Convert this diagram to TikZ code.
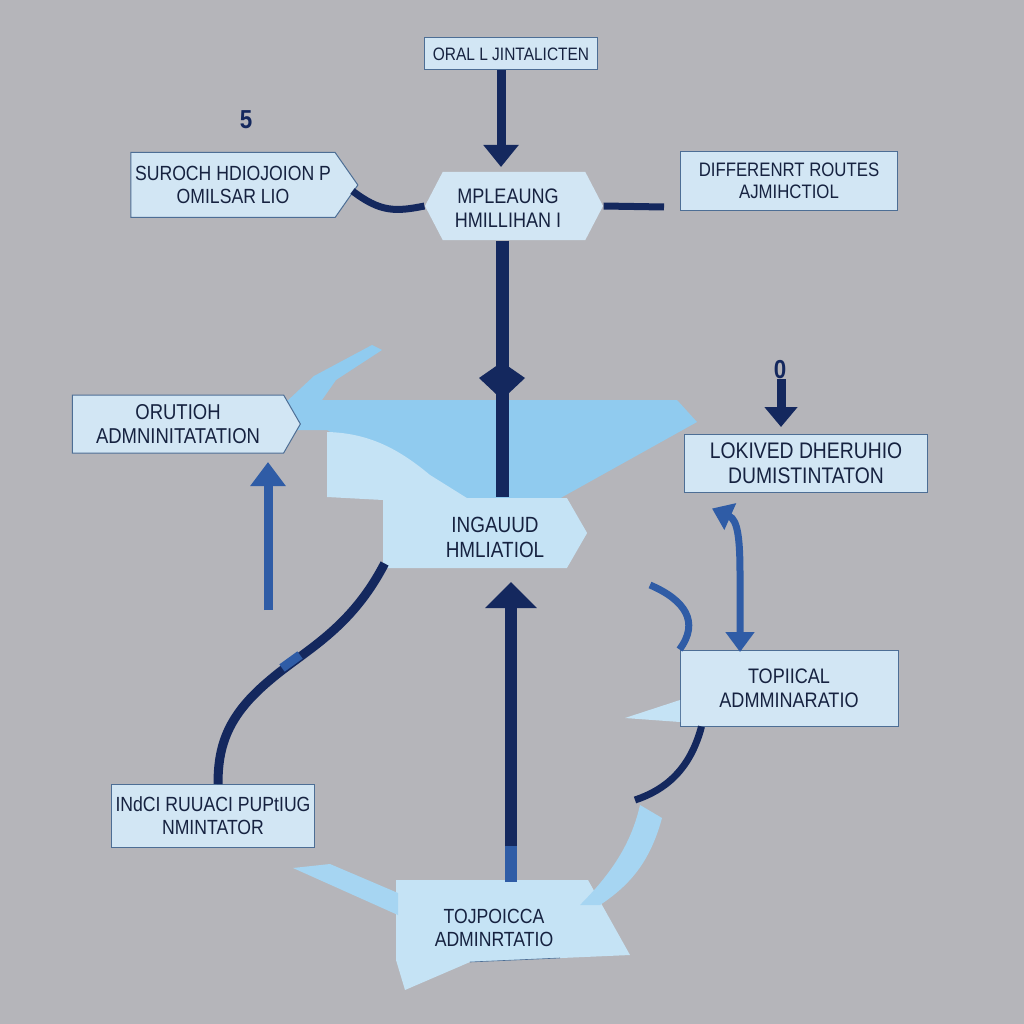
\documentclass[tikz,border=0pt]{standalone}
\usepackage{fontspec}
\setmainfont[FakeStretch=0.86]{Liberation Sans}
\usetikzlibrary{shapes.arrows,shapes.geometric,shapes.symbols,arrows.meta}
\definecolor{bg}{RGB}{181,181,186}
\definecolor{boxfill}{RGB}{210,230,244}
\definecolor{border}{RGB}{77,110,149}
\definecolor{navy}{RGB}{20,40,94}
\definecolor{midblue}{RGB}{47,92,166}
\definecolor{funnel}{RGB}{144,203,239}
\definecolor{pale}{RGB}{197,227,245}
\definecolor{txt}{RGB}{22,34,64}
\newcommand{\fsz}[1]{\fontsize{#1}{1.15*#1}\selectfont}
\tikzset{
  box/.style={draw=border, line width=1pt, fill=boxfill, text=txt, align=center,
    inner sep=0pt, font=\fontsize{19.5}{22}\selectfont},
  sig/.style={box, shape=signal},
  plain/.style={text=txt, align=center, inner sep=0pt},
  nav/.style={draw=navy, line width=7pt},
  mid/.style={draw=midblue, line width=8pt},
  lbl/.style={text=navy, font=\fontsize{26}{28}\selectfont\bfseries, inner sep=0pt},
}
\begin{document}
\begin{tikzpicture}[x=1pt,y=-1pt]
\fill[bg] (0,0) rectangle (1024,1024);
\useasboundingbox (0,0) rectangle (1024,1024);

% ---- funnel and swoosh ----
\fill[funnel] (284,404) -- (314,376) -- (372,345) -- (382,350) -- (336,380) -- (322,400) -- cycle;
\fill[funnel] (280,400) -- (677,400) -- (697,422) -- (557,500) -- (460,505) -- (327,430) -- (280,430) -- cycle;
\fill[pale] (327,432) .. controls (370,433) and (400,450) .. (430,475) -- (470,500) -- (460,512) -- (383,500) -- (327,497) -- cycle;

% ---- boxes ----
\node[box, minimum width=173pt, minimum height=32pt, font=\fontsize{18}{20}\selectfont] (oral) at (511,54) {ORAL L JINTALICTEN};
\node[sig, signal to=east, signal pointer angle=110, minimum width=227pt, minimum height=65pt, font=\fontsize{20.5}{23}\selectfont] (sur) at (233,185) {SUROCH HDIOJOION P\\OMILSAR LIO};
\node[sig, signal to=west and east, signal pointer angle=125, minimum width=178pt, minimum height=68pt, draw=none, font=\fontsize{21}{24}\selectfont] (mpl) at (514,206) {};
\node[plain, font=\fontsize{21}{24}\selectfont] (mplt) at (508,208) {MPLEAUNG\\HMILLIHAN I};
\node[box, minimum width=217pt, minimum height=59pt] (diff) at (789,181) {DIFFERENRT ROUTES\\AJMIHCTIOL};
\node[sig, signal to=east, signal pointer angle=120, minimum width=228pt, minimum height=58pt, font=\fontsize{21.5}{24}\selectfont] (orut) at (178,424) {ORUTIOH\\ADMNINITATATION};
\node[box, minimum width=243pt, minimum height=58pt, font=\fontsize{22.5}{25}\selectfont] (lok) at (806,463) {LOKIVED DHERUHIO\\DUMISTINTATON};
\node[sig, signal to=east, signal pointer angle=120, minimum width=204pt, minimum height=70pt, draw=none, fill=pale] (inga) at (475,533) {};
\node[plain, font=\fontsize{22}{25}\selectfont] (ingat) at (495,537) {INGAUUD\\HMLIATIOL};
\node[box, minimum width=218pt, minimum height=76pt, font=\fontsize{21}{24}\selectfont] (top) at (789,688) {TOPIICAL\\ADMMINARATIO};
\node[box, minimum width=203pt, minimum height=63pt, font=\fontsize{20.5}{23}\selectfont] (indc) at (213,816) {INdCI RUUACI PUPtIUG\\NMINTATOR};

% bottom box (irregular)
\fill[pale] (396,880) -- (588,880) -- (630,955) -- (470,962) -- (405,990) -- (396,960) -- cycle;
\node[plain, font=\fontsize{20.5}{23}\selectfont] (toj) at (494,928) {TOJPOICCA\\ADMINRTATIO};
\draw[border, line width=0.6pt] (470,962) -- (560,958);

% labels
\node[lbl] (five) at (246,120) {5};
\node[lbl] (zero) at (780,370) {0};

% ---- connectors ----
\coordinate (oralend) at (501,167);
\draw[nav, line width=9pt, -{Triangle[width=34pt,length=22pt]}] (oral.south -| oralend) -- (oralend);
\draw[nav] (sur.east) ++(-6,6) .. controls (380,212) and (395,212) .. (mpl.west);
\coordinate (diffend) at (664,207);
\draw[nav] (mpl.east) -- (diffend);
\coordinate (vend) at (502,497);
\draw[navy, line width=13pt] (mpl.south -| vend) -- (vend);
\fill[navy] (502,362) -- (525,378) -- (508,394) -- (496,394) -- (479,378) -- cycle;

\coordinate (zarrow) at (781,427);
\draw[navy, line width=9pt, -{Triangle[width=32pt,length=20pt]}] (zero.south -| zarrow) -- (zarrow);

\coordinate (lupS) at (268,610);
\coordinate (lupE) at (268,462);
\draw[midblue, line width=9pt, -{Triangle[width=34pt,length=24pt]}] (lupS) -- (lupE);

\draw[midblue, line width=7pt, {Triangle[width=28pt,length=20pt]}-{Triangle[width=28pt,length=20pt]}]
  (lok.south west) ++(28,16) .. controls (738,520) and (740,540) .. (740,575) -- (740,652);

\coordinate (arcS) at (650,585);
\draw[mid, line width=7pt] (arcS) .. controls (685,600) and (700,622) .. (top.north west);
\fill[pale] (625,718) -- (680,700) -- (680,722) -- cycle;

\coordinate (tcurve) at (635,800);
\draw[nav] (top.south west) ++(22,0) .. controls (690,770) and (665,790) .. (tcurve);

\fill[funnel!80!white] (640,805) -- (662,818) .. controls (650,862) and (630,885) .. (600,905) -- (580,905) .. controls (615,870) and (632,840) .. cycle;
\fill[funnel!80!white] (293,868) -- (330,864) -- (398,893) -- (398,915) -- cycle;

\draw[nav, line width=9pt] (inga.south west) ++(2,-5) .. controls (350,630) and (305,650) .. (270,680) .. controls (228,715) and (218,745) .. (indc.north -| 218,0);
\draw[midblue, line width=9pt] (282,668) -- (300,655);

\coordinate (bstart) at (511,882);
\draw[midblue, line width=12pt] (bstart) -- (511,845);
\draw[navy, line width=12pt, -{Triangle[width=50pt,length=26pt]}] (511,846) -- (511,582);
\end{tikzpicture}
\end{document}
